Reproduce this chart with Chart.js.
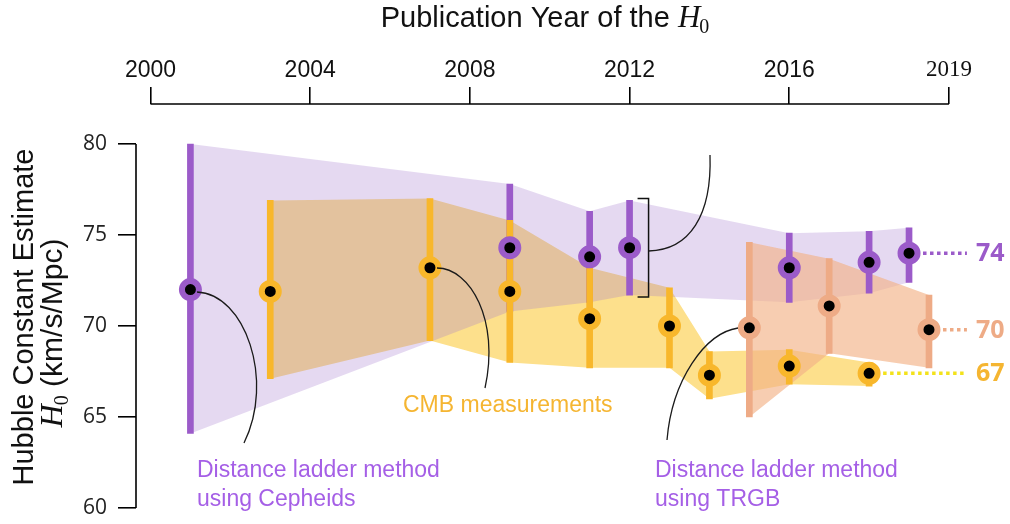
<!DOCTYPE html>
<html><head><meta charset="utf-8">
<script src="https://cdn.jsdelivr.net/npm/chart.js@4"></script>
<style>html,body{margin:0;padding:0;background:#fff}canvas{display:block}</style>
</head><body>
<canvas id="c" width="1010" height="524" style="width:1010px;height:524px"></canvas>
<script>
// ---------- data ----------
const yearTicks = [2000, 2004, 2008, 2012, 2016, 2020];
const yearTickLabels = ['2000', '2004', '2008', '2012', '2016', '2019'];
const h0Ticks = [60, 65, 70, 75, 80];

// Distance ladder (Cepheids)
const cephYears = [2001, 2009, 2011, 2012, 2016, 2018, 2019];
const cephH0    = [72.0, 74.3, 73.8, 74.3, 73.2, 73.5, 74.0];
const cephLow   = [64.1, 70.8, 71.3, 71.7, 71.3, 71.8, 72.4];
const cephHigh  = [80.0, 77.8, 76.3, 76.9, 75.1, 75.2, 75.4];

// CMB measurements
const cmbYears = [2003, 2007, 2009, 2011, 2013, 2014, 2016, 2018];
const cmbH0    = [71.9, 73.2, 71.9, 70.4, 70.0, 67.3, 67.8, 67.4];
const cmbLow   = [67.1, 69.2, 68.0, 67.7, 67.7, 66.0, 66.8, 66.7];
const cmbHigh  = [76.9, 77.0, 75.8, 73.2, 72.1, 68.6, 68.7, 68.0];

// Distance ladder (TRGB)
const trgbYears = [2015, 2017, 2019.5];
const trgbH0    = [69.9, 71.1, 69.8];
const trgbLow   = [65.0, 68.5, 67.7];
const trgbHigh  = [74.6, 73.7, 71.7];

const latestLabels = ['74', '70', '67'];

// ---------- styles ----------
const PURPLE = '#9b5bc9', YELLOW = '#f8b72b', SALMON = '#eeab86';
const PURPLE_BAND = 'rgba(162,119,205,0.28)';
const YELLOW_BAND = '#fde08c';
const SALMON_BAND = 'rgba(243,178,135,0.65)';
const DOT_YELLOW = '#f3e21b';
const TEXT_PURPLE = '#a55fe6', TEXT_ORANGE = '#f5b531';
const DOTTED_END = 2020.45;

const pts = (xs, ys) => xs.map((x, i) => ({x, y: ys[i]}));
const rng = (xs, lo, hi) => xs.map((x, i) => ({x, y: [lo[i], hi[i]]}));
const last = a => a[a.length - 1];

const band = (data, color, fill, order) => ({
  type: 'line', data, fill, backgroundColor: color, borderColor: 'rgba(0,0,0,0)',
  borderWidth: 0, pointRadius: 0, tension: 0, order
});
const errBars = (data, color, order) => ({
  type: 'bar', data, backgroundColor: color, borderWidth: 0, barThickness: 6,
  grouped: false, order
});
const dots = (data, color, order) => ({
  type: 'line', data, showLine: false, pointRadius: 8.5, pointBorderWidth: 6,
  pointBackgroundColor: '#000', pointBorderColor: color, order
});
const dotted = (data, color, order) => ({
  type: 'line', data, borderColor: color, borderWidth: 3.5, borderDash: [3.5, 3.5],
  pointRadius: 0, fill: false, order
});

function drawH0(ctx, x, baseline, hSize, subSize) {
  ctx.font = 'italic ' + hSize + 'px "Liberation Serif"';
  ctx.textAlign = 'left'; ctx.textBaseline = 'alphabetic';
  ctx.fillText('H', x, baseline);
  const wH = ctx.measureText('H').width;
  ctx.font = subSize + 'px "Liberation Serif"';
  ctx.fillText('0', x + wH - 1, baseline + subSize * 0.3);
  return wH - 1 + ctx.measureText('0').width;
}
function h0Width(ctx, hSize, subSize) {
  ctx.font = 'italic ' + hSize + 'px "Liberation Serif"';
  const wH = ctx.measureText('H').width;
  ctx.font = subSize + 'px "Liberation Serif"';
  return wH - 1 + ctx.measureText('0').width;
}

const decor = {
  id: 'decor',
  afterDatasetsDraw(chart) {
    const {ctx, scales: {x, y}, chartArea} = chart;
    ctx.save();
    // axis lines
    ctx.strokeStyle = '#000'; ctx.lineWidth = 1.6; ctx.setLineDash([]);
    ctx.beginPath();
    ctx.moveTo(x.getPixelForValue(yearTicks[0]), chartArea.top);
    ctx.lineTo(x.getPixelForValue(last(yearTicks)), chartArea.top);
    ctx.moveTo(chartArea.left, y.getPixelForValue(h0Ticks[0]));
    ctx.lineTo(chartArea.left, y.getPixelForValue(last(h0Ticks)));
    ctx.stroke();

    // bracket around the 2012 Cepheid error bar
    const bx = x.getPixelForValue(cephYears[3]) + 19;
    const bt = y.getPixelForValue(cephHigh[3]) - 2, bb = y.getPixelForValue(cephLow[3]) + 2;
    ctx.lineWidth = 1.5; ctx.strokeStyle = '#111';
    ctx.beginPath();
    ctx.moveTo(bx - 11, bt); ctx.lineTo(bx, bt); ctx.lineTo(bx, bb); ctx.lineTo(bx - 11, bb);
    ctx.stroke();

    // annotation curves
    ctx.lineWidth = 1.3; ctx.strokeStyle = '#1a1a1a';
    const curves = [
      [[197, 292], [245, 294], [275, 380], [244, 443]],
      [[437, 268], [470, 268], [500, 320], [485, 388]],
      [[bx, 251], [690, 250], [712, 215], [710, 155]],
      [[738, 328], [705, 333], [672, 380], [667, 440]]
    ];
    for (const c of curves) {
      ctx.beginPath();
      ctx.moveTo(c[0][0], c[0][1]);
      ctx.bezierCurveTo(c[1][0], c[1][1], c[2][0], c[2][1], c[3][0], c[3][1]);
      ctx.stroke();
    }

    // annotation text
    ctx.textAlign = 'left'; ctx.textBaseline = 'middle';
    ctx.font = '23px "Liberation Sans"';
    ctx.fillStyle = TEXT_ORANGE;
    ctx.fillText('CMB measurements', 403, 406);
    ctx.fillStyle = TEXT_PURPLE;
    ctx.fillText('Distance ladder method', 197, 471);
    ctx.fillText('using Cepheids', 197, 500);
    ctx.fillText('Distance ladder method', 655, 471);
    ctx.fillText('using TRGB', 655, 500);

    // latest values
    ctx.font = 'bold 25px "Open Sans"';
    const lx = x.getPixelForValue(DOTTED_END) + 9;
    const lastVals = [last(cephH0), last(trgbH0), last(cmbH0)];
    const lastCols = [PURPLE, SALMON, TEXT_ORANGE];
    lastVals.forEach((v, i) => {
      ctx.fillStyle = lastCols[i];
      ctx.fillText(latestLabels[i], lx, y.getPixelForValue(v) + 1);
    });

    // top title
    ctx.fillStyle = '#111';
    ctx.font = '29px "Liberation Sans"';
    const t1 = 'Publication Year of the ';
    const w1 = ctx.measureText(t1).width;
    const wh = h0Width(ctx, 31, 20);
    let sx = 545 - (w1 + wh) / 2;
    ctx.font = '29px "Liberation Sans"'; ctx.textBaseline = 'alphabetic';
    ctx.fillText(t1, sx, 27);
    drawH0(ctx, sx + w1, 27, 31, 20);

    // y title
    ctx.save();
    ctx.translate(33, 317); ctx.rotate(-Math.PI / 2);
    ctx.font = '29px "Liberation Sans"'; ctx.textAlign = 'center'; ctx.textBaseline = 'alphabetic';
    ctx.fillText('Hubble Constant Estimate', 0, 0);
    ctx.restore();
    ctx.save();
    ctx.translate(62, 333); ctx.rotate(-Math.PI / 2);
    ctx.font = '30px "Liberation Sans"';
    const t2 = ' (km/s/Mpc)';
    const w2 = ctx.measureText(t2).width;
    const wh2 = h0Width(ctx, 32, 20);
    const s2 = -(w2 + wh2) / 2;
    drawH0(ctx, s2, 0, 32, 20);
    ctx.font = '30px "Liberation Sans"'; ctx.textAlign = 'left'; ctx.textBaseline = 'alphabetic';
    ctx.fillText(t2, s2 + wh2, 0);
    ctx.restore();

    ctx.restore();
  }
};

new Chart(document.getElementById('c'), {
  type: 'line',
  data: {
    datasets: [
      band(pts(cmbYears, cmbHigh), YELLOW_BAND, '+1', 100),
      band(pts(cmbYears, cmbLow), 'rgba(0,0,0,0)', false, 101),
      band(pts(cephYears, cephHigh), PURPLE_BAND, '+1', 90),
      band(pts(cephYears, cephLow), 'rgba(0,0,0,0)', false, 91),
      band(pts(trgbYears, trgbHigh), SALMON_BAND, '+1', 80),
      band(pts(trgbYears, trgbLow), 'rgba(0,0,0,0)', false, 81),
      dotted([{x: last(cephYears), y: last(cephH0)}, {x: DOTTED_END, y: last(cephH0)}], PURPLE, 60),
      dotted([{x: last(trgbYears), y: last(trgbH0)}, {x: DOTTED_END, y: last(trgbH0)}], SALMON, 61),
      dotted([{x: last(cmbYears), y: last(cmbH0)}, {x: DOTTED_END, y: last(cmbH0)}], DOT_YELLOW, 62),
      errBars(rng(cephYears, cephLow, cephHigh), PURPLE, 52),
      errBars(rng(cmbYears, cmbLow, cmbHigh), YELLOW, 51),
      errBars(rng(trgbYears, trgbLow, trgbHigh), SALMON, 50),
      dots(pts(cephYears, cephH0), PURPLE, 12),
      dots(pts(cmbYears, cmbH0), YELLOW, 11),
      dots(pts(trgbYears, trgbH0), SALMON, 10)
    ]
  },
  options: {
    responsive: false, animation: false, events: [],
    layout: {padding: {left: 0, top: 0, right: 5, bottom: 16}},
    plugins: {legend: {display: false}, tooltip: {enabled: false}},
    scales: {
      x: {
        type: 'linear', position: 'top', min: 1999.637, max: 2021.166, offset: false,
        afterFit: s => { s.height = 104; },
        afterBuildTicks: s => { s.ticks = yearTicks.map(v => ({value: v})); },
        border: {display: false},
        grid: {display: true, offset: false, drawOnChartArea: false, drawTicks: true, tickLength: 17, color: '#000', lineWidth: 1.6},
        ticks: {
          autoSkip: false, maxRotation: 0, padding: 3, color: '#111',
          callback: (v, i) => yearTickLabels[i],
          font: c => ({family: yearTickLabels[c.index] === '2019' ? '"Liberation Serif"' : '"Liberation Sans"', size: 23})
        }
      },
      y: {
        type: 'linear', position: 'left', min: 60, max: 82.198,
        afterFit: s => { s.width = 136; },
        afterBuildTicks: s => { s.ticks = h0Ticks.map(v => ({value: v})); },
        border: {display: false},
        grid: {display: true, offset: false, drawOnChartArea: false, drawTicks: true, tickLength: 18, color: '#000', lineWidth: 1.6},
        ticks: {padding: 11, color: '#222', font: {family: '"Open Sans"', size: 21, lineHeight: 0.45}}
      }
    }
  },
  plugins: [decor]
});
</script>
</body></html>
